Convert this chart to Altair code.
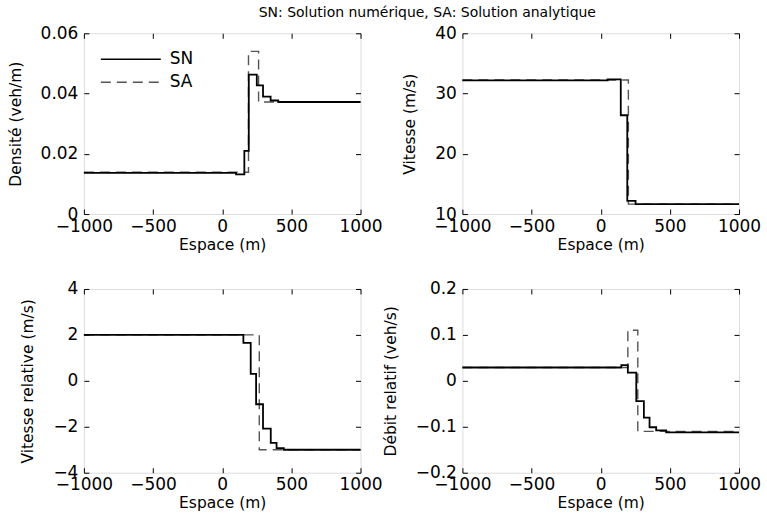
import altair as alt
import pandas as pd

# ---- data ----
x_ticks = [-1000, -500, 0, 500, 1000]

# Panel 1 : Densité
p1_sn_x = [-1000, 100, 160, 192, 250, 295, 350, 405, 1000]
p1_sn_y = [0.0137, 0.0132, 0.021, 0.0463, 0.0427, 0.039, 0.0377, 0.0372, 0.0372]
p1_sa_x = [-1000, 190, 263, 1000]
p1_sa_y = [0.0139, 0.054, 0.0372, 0.0372]

# Panel 2 : Vitesse
p2_sn_x = [-1000, 50, 145, 192, 252, 1000]
p2_sn_y = [32.2, 32.35, 26.4, 12.2, 11.65, 11.65]
p2_sa_x = [-1000, 200, 1000]
p2_sa_y = [32.25, 11.65, 11.65]

# Panel 3 : Vitesse relative
p3_sn_x = [-1000, 153, 206, 245, 295, 351, 393, 445, 1000]
p3_sn_y = [2.0, 1.65, 0.3, -1.02, -2.08, -2.7, -2.93, -3.0, -3.0]
p3_sa_x = [-1000, 268, 1000]
p3_sa_y = [2.0, -3.0, -3.0]

# Panel 4 : Débit relatif
p4_sn_x = [-1000, 149, 196, 257, 312, 353, 401, 473, 1000]
p4_sn_y = [0.029, 0.034, 0.018, -0.044, -0.080, -0.101, -0.108, -0.112, -0.112]
p4_sa_x = [-1000, 196, 268, 1000]
p4_sa_y = [0.029, 0.11, -0.11, -0.11]

FONT = "DejaVu Sans"
W = 277


def make_df(snx, sny, sax, say):
    a = pd.DataFrame({"x": snx, "y": sny, "serie": "SN"})
    b = pd.DataFrame({"x": sax, "y": say, "serie": "SA"})
    return pd.concat([a, b], ignore_index=True)


def panel(df, ytitle, ydomain, yticks, height, show_legend=False):
    xs = alt.Scale(domain=[-1000, 1000], nice=False, zero=False)
    ys = alt.Scale(domain=ydomain, nice=False, zero=False)
    common = dict(labelFont=FONT, labelFontSize=17, labelColor="black",
                  titleFont=FONT, titleFontSize=15.5, titleColor="black",
                  titleFontWeight="normal", tickColor="black", tickWidth=1,
                  grid=False, domain=False, format=".6~g")
    ax_bottom = alt.Axis(orient="bottom", values=x_ticks, title="Espace (m)",
                         offset=-5, tickSize=5, labelPadding=4, titlePadding=3,
                         labelFlush=False, **common)
    ax_left = alt.Axis(orient="left", values=yticks, title=ytitle,
                       offset=-5, tickSize=5, labelPadding=6, titlePadding=17,
                       labelFlush=False, **common)
    ax_top = alt.Axis(orient="top", values=x_ticks, title=None, labels=False,
                      offset=-5, tickSize=5, **common)
    ax_right = alt.Axis(orient="right", values=yticks, title=None, labels=False,
                        offset=-5, tickSize=5, **common)
    if show_legend:
        leg = alt.Legend(title=None, orient="none", legendX=16, legendY=16,
                         symbolType="stroke", symbolSize=3600,
                         symbolStrokeWidth=1.6, clipHeight=20, rowPadding=3,
                         labelFont=FONT, labelFontSize=17, labelColor="black",
                         labelOffset=8)
    else:
        leg = None
    color = alt.Color("serie:N", scale=alt.Scale(domain=["SN", "SA"], range=["black", "#555555"]),
                      legend=leg)
    dash = alt.StrokeDash("serie:N", scale=alt.Scale(domain=["SN", "SA"], range=[[1, 0], [10, 6]]),
                          legend=leg)
    base = alt.Chart(df)
    sa = base.transform_filter(alt.datum.serie == "SA").mark_line(
        interpolate="step-after", strokeWidth=1.4).encode(
        x=alt.X("x:Q", scale=xs, axis=ax_bottom),
        y=alt.Y("y:Q", scale=ys, axis=ax_left),
        color=color, strokeDash=dash)
    sn = base.transform_filter(alt.datum.serie == "SN").mark_line(
        interpolate="step-after", strokeWidth=1.8).encode(
        x=alt.X("x:Q", scale=xs, axis=ax_top),
        y=alt.Y("y:Q", scale=ys, axis=ax_right),
        color=color, strokeDash=dash)
    return alt.layer(sa, sn).resolve_axis(x="independent", y="independent").properties(width=W, height=height)


c1 = panel(make_df(p1_sn_x, p1_sn_y, p1_sa_x, p1_sa_y), "Densité (veh/m)", [0, 0.06], [0, 0.02, 0.04, 0.06], 181, True)
c2 = panel(make_df(p2_sn_x, p2_sn_y, p2_sa_x, p2_sa_y), "Vitesse (m/s)", [10, 40], [10, 20, 30, 40], 181)
c3 = panel(make_df(p3_sn_x, p3_sn_y, p3_sa_x, p3_sa_y), "Vitesse relative (m/s)", [-4, 4], [-4, -2, 0, 2, 4], 184)
c4 = panel(make_df(p4_sn_x, p4_sn_y, p4_sa_x, p4_sa_y), "Débit relatif (veh/s)", [-0.2, 0.2], [-0.2, -0.1, 0, 0.1, 0.2], 184)

chart = alt.concat(c1, c2, c3, c4, columns=2, spacing={"row": 75, "column": 102},
                   bounds="flush").resolve_scale(
    color="independent", strokeDash="independent").properties(
    title=alt.TitleParams("SN: Solution numérique, SA: Solution analytique",
                          font=FONT, fontSize=14, fontWeight="normal", color="black",
                          anchor="middle", dx=43, offset=4),
    padding={"left": 7, "right": 5, "top": 5, "bottom": 5}
).configure_view(stroke="black", strokeWidth=1.2).configure(background="white")

chart.save("out.html", embed_options={"renderer": "svg", "actions": False})
